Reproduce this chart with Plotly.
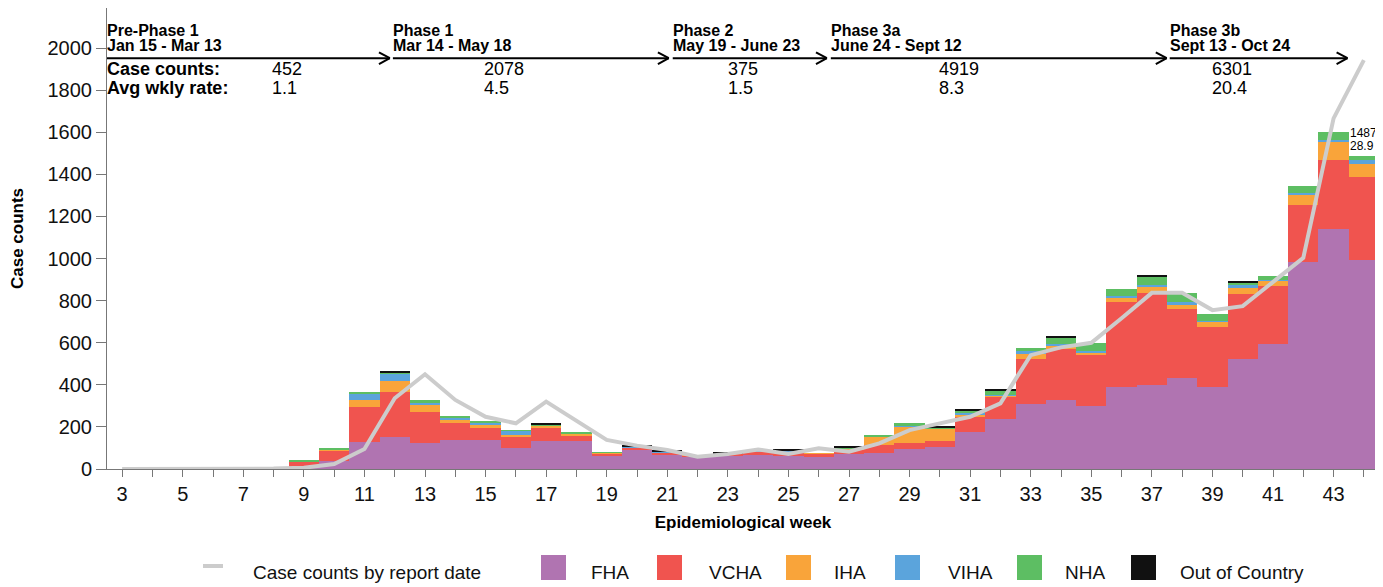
import plotly.graph_objects as go

# ---------------- data ----------------
weeks = list(range(3, 45))

fha = [0, 0, 1, 1, 2, 2, 8, 40, 127, 153, 125, 138, 138, 98, 133, 133, 64, 92, 70, 57,
       62, 65, 63, 55, 72, 77, 94, 106, 177, 236, 309, 328, 299, 391, 399, 431, 388, 522,
       594, 985, 1139, 993]
vcha = [0, 0, 2, 2, 2, 3, 27, 48, 169, 211, 145, 79, 58, 52, 60, 24, 10, 8, 8, 5,
        10, 18, 20, 17, 22, 37, 28, 27, 68, 104, 214, 241, 242, 404, 436, 329, 288, 309,
        277, 269, 329, 393]
iha = [0, 0, 0, 0, 0, 0, 1, 3, 32, 54, 35, 16, 13, 11, 12, 10, 3, 4, 2, 2,
       2, 2, 2, 2, 4, 39, 79, 60, 16, 11, 22, 16, 13, 21, 29, 19, 24, 27,
       24, 52, 90, 63]
viha = [0, 0, 0, 0, 0, 0, 1, 4, 32, 37, 13, 11, 11, 20, 3, 2, 0, 1, 1, 0,
        0, 1, 1, 0, 1, 1, 2, 1, 7, 3, 17, 10, 8, 4, 11, 13, 4, 16,
        5, 6, 6, 19]
nha = [0, 0, 0, 0, 0, 0, 2, 3, 8, 5, 8, 5, 5, 4, 4, 8, 2, 3, 3, 0,
       2, 2, 2, 0, 3, 8, 16, 5, 12, 19, 11, 30, 38, 34, 38, 43, 32, 14,
       19, 35, 37, 19]
out_of_country = [0, 0, 0, 0, 0, 0, 0, 0, 0, 3, 0, 0, 0, 0, 4, 0, 0, 2, 4, 0,
                  2, 2, 3, 0, 5, 0, 0, 3, 3, 5, 0, 8, 0, 0, 8, 0, 0, 5,
                  0, 0, 0, 0]
report_date = [0, 0, 0, 1, 1, 2, 6, 24, 95, 336, 450, 328, 248, 217, 320, 228, 138, 111, 90, 58,
               71, 93, 71, 98, 82, 122, 185, 217, 248, 312, 541, 578, 600, 716, 837, 837, 755, 774,
               890, 1003, 1666, 1943]

series_names = ["FHA", "VCHA", "IHA", "VIHA", "NHA", "Out of Country"]
series_values = [fha, vcha, iha, viha, nha, out_of_country]
series_colors = ["#B074B1", "#F0544F", "#F9A43A", "#5BA4DC", "#5DBE63", "#111111"]
line_name = "Case counts by report date"
line_color = "#CCCCCC"

phase_names = ["Pre-Phase 1", "Phase 1", "Phase 2", "Phase 3a", "Phase 3b"]
phase_dates = ["Jan 15 - Mar 13", "Mar 14 - May 18", "May 19 - June 23",
               "June 24 - Sept 12", "Sept 13 - Oct 24"]
phase_start = [2.5, 11.94, 21.18, 26.4, 37.59]
phase_end = [11.84, 21.05, 26.27, 37.49, 43.46]
phase_counts = [452, 2078, 375, 4919, 6301]
phase_rates = ["1.1", "4.5", "1.5", "8.3", "20.4"]
phase_value_x = [7.95, 14.95, 23.0, 29.96, 38.97]

last_week_rate = "28.9"

y_ticks = list(range(0, 2001, 200))

# ---------------- layout geometry ----------------
# the page body has an 8px margin, so the figure is sized to fill the window from there
OFF = 8
PAGE_W, PAGE_H = 1383, 587
W, H = PAGE_W - OFF, PAGE_H - OFF
ML, MR, MT, MB = 107 - OFF, 4, 0, 118
plot_w = W - ML - MR
plot_h = H - MT - MB
PX_PER_UNIT = 463 / 2200.0
y_top = plot_h / PX_PER_UNIT

fig = go.Figure()
for name, vals, col in zip(series_names, series_values, series_colors):
    fig.add_trace(go.Bar(x=weeks, y=vals, name=name, width=1.0,
                         marker=dict(color=col, line=dict(width=0)),
                         showlegend=False))
fig.add_trace(go.Scatter(x=weeks, y=report_date, name=line_name, mode="lines",
                         line=dict(color=line_color, width=4), showlegend=False))

FONT = "Arial, Liberation Sans, sans-serif"

annotations = []
shapes = []

# phase headers
y_name, y_date, y_arrow, y_cnt, y_rate = 2085, 2010, 1952, 1900, 1810
for nm, dt, s, e, c, r, vx in zip(phase_names, phase_dates, phase_start, phase_end,
                                  phase_counts, phase_rates, phase_value_x):
    annotations.append(dict(x=s, y=y_name, xref="x", yref="y", text="<b>%s</b>" % nm,
                            showarrow=False, xanchor="left", yanchor="middle",
                            xshift=-2, font=dict(size=16, color="#000", family=FONT)))
    annotations.append(dict(x=s, y=y_date, xref="x", yref="y", text="<b>%s</b>" % dt,
                            showarrow=False, xanchor="left", yanchor="middle",
                            xshift=-2, font=dict(size=16, color="#000", family=FONT)))
    annotations.append(dict(x=vx, y=y_cnt, xref="x", yref="y", text=str(c),
                            showarrow=False, xanchor="left", yanchor="middle",
                            xshift=-2, font=dict(size=18, color="#000", family=FONT)))
    annotations.append(dict(x=vx, y=y_rate, xref="x", yref="y", text=r,
                            showarrow=False, xanchor="left", yanchor="middle",
                            xshift=-2, font=dict(size=18, color="#000", family=FONT)))
    shapes.append(dict(type="line", xref="x", yref="y", x0=s, x1=e, y0=y_arrow, y1=y_arrow,
                       line=dict(color="#000", width=2)))
    for d in (1, -1):
        shapes.append(dict(type="line", xref="x", yref="y", x0=e - 0.36, x1=e,
                           y0=y_arrow + d * 28, y1=y_arrow,
                           line=dict(color="#000", width=2)))

annotations.append(dict(x=2.5, y=y_cnt, xref="x", yref="y", text="<b>Case counts:</b>",
                        showarrow=False, xanchor="left", yanchor="middle", xshift=-2,
                        font=dict(size=18, color="#000", family=FONT)))
annotations.append(dict(x=2.5, y=y_rate, xref="x", yref="y", text="<b>Avg wkly rate:</b>",
                        showarrow=False, xanchor="left", yanchor="middle", xshift=-2,
                        font=dict(size=18, color="#000", family=FONT)))

# last-week label
last_total = sum(v[-1] for v in series_values)
annotations.append(dict(x=weeks[-1] - 0.5, y=last_total + 108, xref="x", yref="y",
                        text=str(last_total), showarrow=False, xanchor="left",
                        yanchor="middle", xshift=-1,
                        font=dict(size=12, color="#000", family=FONT)))
annotations.append(dict(x=weeks[-1] - 0.5, y=last_total + 50, xref="x", yref="y",
                        text=last_week_rate, showarrow=False, xanchor="left",
                        yanchor="middle", xshift=-1,
                        font=dict(size=12, color="#000", family=FONT)))

# manual legend (page-pixel layout converted to paper coords)
def px_x(px):
    return (px - OFF - ML) / plot_w

def px_y(py):
    return (H - MB - (py - OFF)) / plot_h

legend_labels = [line_name] + series_names
legend_sym_px = [203, 541, 657, 786, 895, 1017, 1131]
legend_text_px = [253, 591, 709, 834, 948, 1065, 1180]
legend_cols = [line_color] + series_colors
for i, (lab, sx, tx, col) in enumerate(zip(legend_labels, legend_sym_px, legend_text_px, legend_cols)):
    if i == 0:
        shapes.append(dict(type="line", xref="paper", yref="paper",
                           x0=px_x(sx), x1=px_x(sx + 20), y0=px_y(566), y1=px_y(566),
                           line=dict(color=col, width=4)))
    else:
        shapes.append(dict(type="rect", xref="paper", yref="paper",
                           x0=px_x(sx), x1=px_x(sx + 25), y0=px_y(580), y1=px_y(555),
                           fillcolor=col, line=dict(width=0)))
    annotations.append(dict(x=px_x(tx), y=px_y(572), xref="paper", yref="paper",
                            text=lab, showarrow=False, xanchor="left", yanchor="middle",
                            xshift=-2, font=dict(size=19, color="#111", family=FONT)))

fig.update_layout(
    width=W, height=H,
    margin=dict(l=ML, r=MR, t=MT, b=MB, pad=0),
    paper_bgcolor="white", plot_bgcolor="white",
    barmode="stack", bargap=0,
    showlegend=False,
    font=dict(family=FONT, color="#111"),
    annotations=annotations,
    shapes=shapes,
    xaxis=dict(range=[2.5, 44.5], tickmode="linear", tick0=3, dtick=2,
               ticks="outside", ticklen=7, tickwidth=1, tickcolor="#777",
               minor=dict(ticks="outside", dtick=1, tick0=3, ticklen=7, tickcolor="#777"),
               showline=True, linecolor="#777", linewidth=1,
               showgrid=False, zeroline=False, automargin=False,
               tickfont=dict(size=20, color="#111", family=FONT),
               title=dict(text="<b>Epidemiological week</b>", standoff=12,
                          font=dict(size=17, color="#000", family=FONT))),
    yaxis=dict(range=[0, y_top], tickmode="array", tickvals=y_ticks,
               ticks="outside", ticklen=10, tickwidth=1, tickcolor="#777",
               showline=True, linecolor="#777", linewidth=1,
               showgrid=False, zeroline=False, automargin=False,
               tickfont=dict(size=20, color="#111", family=FONT),
               title=dict(text="<b>Case counts</b>", standoff=20,
                          font=dict(size=17, color="#000", family=FONT))),
)

fig.write_html("out.html")
